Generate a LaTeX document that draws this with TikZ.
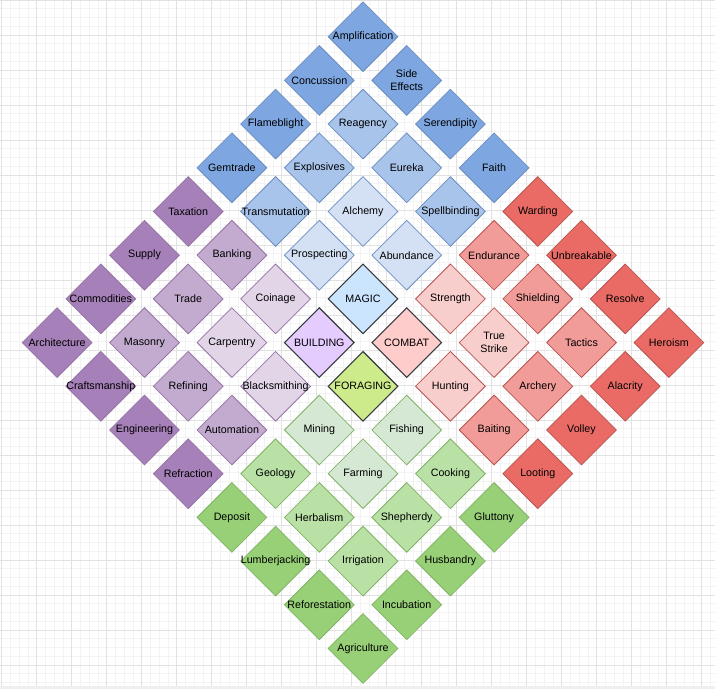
\documentclass[tikz,border=0pt]{standalone}
\usepackage{fontspec}
\setmainfont{Liberation Sans}
\usetikzlibrary{shapes.geometric}

\definecolor{gridmajor}{HTML}{E2E2E2}
\definecolor{gridminor}{HTML}{F3F3F3}
\definecolor{strip}{HTML}{EFEFEF}
\definecolor{hubline}{HTML}{36393D}
\definecolor{magicline}{HTML}{6C8EBF}
\definecolor{buildline}{HTML}{9673A6}
\definecolor{combatline}{HTML}{B85450}
\definecolor{forageline}{HTML}{82B366}
\definecolor{magicA}{HTML}{7EA6E0}
\definecolor{magicB}{HTML}{A9C4EB}
\definecolor{magicC}{HTML}{D4E1F5}
\definecolor{magicD}{HTML}{CCE5FF}
\definecolor{buildA}{HTML}{A680B8}
\definecolor{buildB}{HTML}{C3ABD0}
\definecolor{buildC}{HTML}{E1D5E7}
\definecolor{buildD}{HTML}{E5CCFF}
\definecolor{combatA}{HTML}{EA6B66}
\definecolor{combatB}{HTML}{F19C99}
\definecolor{combatC}{HTML}{F8CECC}
\definecolor{combatD}{HTML}{FFCCCC}
\definecolor{forageA}{HTML}{97D077}
\definecolor{forageB}{HTML}{B9E0A5}
\definecolor{forageC}{HTML}{D5E8D4}
\definecolor{forageD}{HTML}{CDEB8B}

\begin{document}
\begin{tikzpicture}[x=1pt, y=1pt,
    tile/.style={shape=diamond, minimum size=70pt, inner sep=0pt, line width=0.8pt},
    txt/.style={align=center, inner sep=0pt, text=black, font=\fontsize{10.7}{12.5}\selectfont},
    hub/.style={draw=hubline, line width=1.1pt},
    magic0/.style={fill=magicA, draw=magicline},
    magic1/.style={fill=magicB, draw=magicline},
    magic2/.style={fill=magicC, draw=magicline},
    magic3/.style={fill=magicD, hub},
    build0/.style={fill=buildA, draw=buildline},
    build1/.style={fill=buildB, draw=buildline},
    build2/.style={fill=buildC, draw=buildline},
    build3/.style={fill=buildD, hub},
    combat0/.style={fill=combatA, draw=combatline},
    combat1/.style={fill=combatB, draw=combatline},
    combat2/.style={fill=combatC, draw=combatline},
    combat3/.style={fill=combatD, hub},
    forage0/.style={fill=forageA, draw=forageline},
    forage1/.style={fill=forageB, draw=forageline},
    forage2/.style={fill=forageC, draw=forageline},
    forage3/.style={fill=forageD, hub}]

    % Background grid
    \useasboundingbox (0,0) rectangle (715,689);
    \fill[white] (0,0) rectangle (715,689);
    \draw[gridminor, line width=0.7pt, shift={(1.7,24)}, step=8.75] (-1.7,-21) grid (713.3,665);
    \draw[gridmajor, line width=0.9pt, shift={(1.7,24)}, step=35] (-1.7,-21) grid (713.3,665);
    \fill[strip] (0,0) rectangle (715,3);

    % Magic quarter
    \foreach \p/\q/\name/\txt in {0/0/amplification/Amplification, 0/1/concussion/Concussion,
        1/0/sideeffects/{Side\\Effects}, 0/2/flameblight/Flameblight, 1/1/reagency/Reagency,
        2/0/serendipity/Serendipity, 0/3/gemtrade/Gemtrade, 1/2/explosives/Explosives,
        2/1/eureka/Eureka, 3/0/faith/Faith, 1/3/transmutation/Transmutation,
        2/2/alchemy/Alchemy, 3/1/spellbinding/Spellbinding, 2/3/prospecting/Prospecting,
        3/2/abundance/Abundance, 3/3/magic/MAGIC} {
        \pgfmathtruncatemacro\ring{min(\p,\q)}
        \node[tile, magic\ring, label={[txt]center:\txt}] (\name)
            at ({363+43.7*(\p-\q)},{652.3-43.7*(\p+\q)}) {};
    }

    % Building quarter
    \foreach \p/\q/\name/\txt in {0/4/taxation/Taxation, 0/5/supply/Supply, 1/4/banking/Banking,
        0/6/commodities/Commodities, 1/5/trade/Trade, 2/4/coinage/Coinage,
        0/7/architecture/Architecture, 1/6/masonry/Masonry, 2/5/carpentry/Carpentry,
        3/4/building/BUILDING, 1/7/craftsmanship/Craftsmanship, 2/6/refining/Refining,
        3/5/blacksmithing/Blacksmithing, 2/7/engineering/Engineering,
        3/6/automation/Automation, 3/7/refraction/Refraction} {
        \pgfmathtruncatemacro\ring{min(\p,7-\q)}
        \node[tile, build\ring, label={[txt]center:\txt}] (\name)
            at ({363+43.7*(\p-\q)},{652.3-43.7*(\p+\q)}) {};
    }

    % Combat quarter
    \foreach \p/\q/\name/\txt in {4/0/warding/Warding, 4/1/endurance/Endurance,
        5/0/unbreakable/Unbreakable, 4/2/strength/Strength, 5/1/shielding/Shielding,
        6/0/resolve/Resolve, 4/3/combat/COMBAT, 5/2/truestrike/{True\\Strike},
        6/1/tactics/Tactics, 7/0/heroism/Heroism, 5/3/hunting/Hunting, 6/2/archery/Archery,
        7/1/alacrity/Alacrity, 6/3/baiting/Baiting, 7/2/volley/Volley, 7/3/looting/Looting} {
        \pgfmathtruncatemacro\ring{min(7-\p,\q)}
        \node[tile, combat\ring, label={[txt]center:\txt}] (\name)
            at ({363+43.7*(\p-\q)},{652.3-43.7*(\p+\q)}) {};
    }

    % Foraging quarter
    \foreach \p/\q/\name/\txt in {4/4/foraging/FORAGING, 4/5/mining/Mining, 5/4/fishing/Fishing,
        4/6/geology/Geology, 5/5/farming/Farming, 6/4/cooking/Cooking, 4/7/deposit/Deposit,
        5/6/herbalism/Herbalism, 6/5/shepherdy/Shepherdy, 7/4/gluttony/Gluttony,
        5/7/lumberjacking/Lumberjacking, 6/6/irrigation/Irrigation, 7/5/husbandry/Husbandry,
        6/7/reforestation/Reforestation, 7/6/incubation/Incubation,
        7/7/agriculture/Agriculture} {
        \pgfmathtruncatemacro\ring{min(7-\p,7-\q)}
        \node[tile, forage\ring, label={[txt]center:\txt}] (\name)
            at ({363+43.7*(\p-\q)},{652.3-43.7*(\p+\q)}) {};
    }
\end{tikzpicture}
\end{document}
